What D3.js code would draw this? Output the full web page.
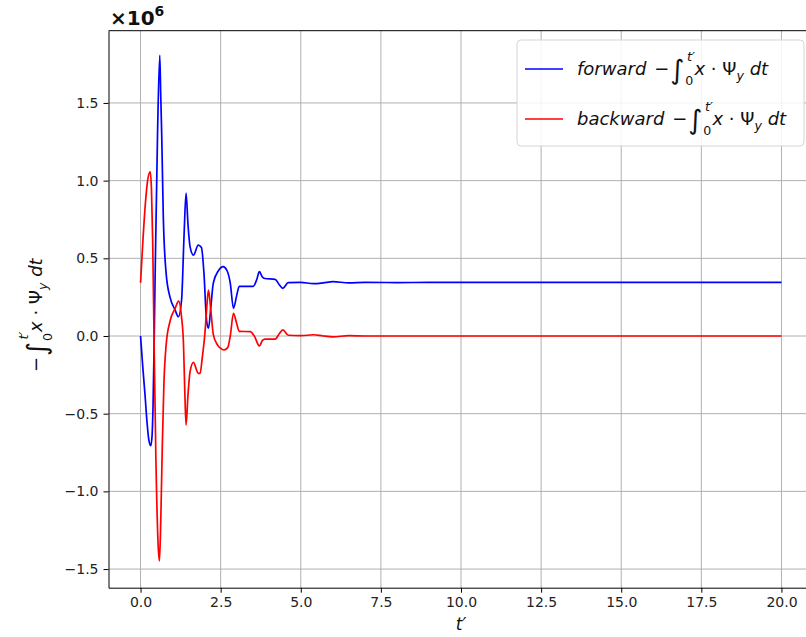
<!DOCTYPE html>
<html>
<head>
<meta charset="utf-8">
<script src="https://cdn.jsdelivr.net/npm/d3@7"></script>
<style>
  body { margin: 0; background: #fff; }
  svg { display: block; font-family: "DejaVu Sans", sans-serif; }
</style>
</head>
<body>
<svg id="chart" width="806" height="637"></svg>
<script>
// values (units of 1e6)
const tForward = [0, 0.07, 0.14, 0.2, 0.26, 0.32, 0.36, 0.39, 0.42, 0.46, 0.53, 0.6, 0.63, 0.66, 0.71, 0.8, 0.92, 1.08, 1.18,
  1.28, 1.36, 1.42, 1.48, 1.545, 1.65, 1.8, 1.9, 1.98, 2.06, 2.12, 2.2, 2.27, 2.43, 2.58, 2.7, 2.8, 2.9, 3.0, 3.08, 3.52,
  3.62, 3.71, 3.8, 3.88, 4.2, 4.33, 4.44, 4.61, 5.0, 5.4, 5.7, 6.0, 6.5, 7, 8, 9, 10, 12, 14, 16, 18, 20];
const vForward = [0, -0.2, -0.38, -0.55, -0.67, -0.706, -0.64, -0.45, -0.1, 0.45, 1.3, 1.807, 1.55, 1.3, 0.77, 0.4, 0.25, 0.167, 0.124,
  0.23, 0.66, 0.92, 0.72, 0.575, 0.52, 0.585, 0.57, 0.4, 0.1, 0.05, 0.2, 0.34, 0.42, 0.446, 0.42, 0.34, 0.178, 0.26, 0.32, 0.32,
  0.36, 0.414, 0.38, 0.37, 0.365, 0.33, 0.307, 0.343, 0.345, 0.337, 0.342, 0.35, 0.342, 0.345, 0.344, 0.345, 0.345, 0.345, 0.345, 0.345, 0.345, 0.345];

const tBackward = [0, 0.07, 0.15, 0.22, 0.3, 0.34, 0.38, 0.42, 0.48, 0.55, 0.59, 0.63, 0.68, 0.73, 0.8, 0.92, 1.08, 1.19,
  1.28, 1.34, 1.38, 1.42, 1.48, 1.545, 1.65, 1.8, 1.86, 1.92, 2.01, 2.08, 2.12, 2.2, 2.27, 2.38, 2.5, 2.6, 2.72, 2.8, 2.9, 3.0, 3.08, 3.42,
  3.55, 3.71, 3.8, 3.88, 4.2, 4.33, 4.44, 4.61, 5.0, 5.4, 5.7, 6.0, 6.5, 7, 8, 9, 10, 12, 14, 16, 18, 20];
const vBackward = [0.343, 0.6, 0.85, 1.0, 1.057, 0.95, 0.6, 0.0, -0.8, -1.35, -1.448, -1.2, -0.7, -0.3, -0.055, 0.095, 0.178, 0.225,
  0.12, -0.05, -0.35, -0.573, -0.38, -0.23, -0.17, -0.24, -0.24, -0.15, 0.02, 0.22, 0.296, 0.15, 0.01, -0.05, -0.08, -0.09, -0.075, 0.0, 0.146, 0.08, 0.03, 0.028,
  0.0, -0.064, -0.03, -0.02, -0.02, 0.015, 0.04, 0.005, 0.002, 0.008, 0.0, -0.005, 0.002, 0.0, 0.0, 0.0, 0.0, 0.0, 0.0, 0.0, 0.0, 0.0];

const xTicks = [0, 2.5, 5, 7.5, 10, 12.5, 15, 17.5, 20];
const yTicks = [-1.5, -1.0, -0.5, 0, 0.5, 1.0, 1.5];

const seriesNames = ['forward', 'backward'];
const seriesColors = ['#0000ff', '#ff0000'];

const svg = d3.select('#chart');
const pLeft = 108.5, pRight = 813.5, pTop = 30.7, pBottom = 587.7;

const x = d3.scaleLinear().domain([-1, 21]).range([pLeft, pRight]);
const y = d3.scaleLinear().domain([-1.62, 1.965]).range([pBottom, pTop]);

// grid
const grid = svg.append('g');
grid.selectAll('line.gx').data(xTicks).join('line')
  .attr('class', 'gx')
  .attr('x1', d => x(d)).attr('x2', d => x(d))
  .attr('y1', pTop).attr('y2', pBottom)
  .attr('stroke', '#b0b0b0').attr('stroke-width', 1);
grid.selectAll('line.gy').data(yTicks).join('line')
  .attr('class', 'gy')
  .attr('x1', pLeft).attr('x2', pRight)
  .attr('y1', d => y(d)).attr('y2', d => y(d))
  .attr('stroke', '#b0b0b0').attr('stroke-width', 1);

// lines
const line = d3.line().x(d => x(d[0])).y(d => y(d[1])).curve(d3.curveMonotoneX);
const series = [d3.zip(tForward, vForward), d3.zip(tBackward, vBackward)];
svg.append('g').selectAll('path').data(series).join('path')
  .attr('d', line)
  .attr('fill', 'none')
  .attr('stroke', (d, i) => seriesColors[i])
  .attr('stroke-width', 1.7)
  .attr('stroke-linejoin', 'round');

// axes
const fmt = d3.format('.1f');
const xAxis = svg.append('g').attr('transform', `translate(0,${pBottom})`)
  .call(d3.axisBottom(x).tickValues(xTicks).tickFormat(fmt).tickSize(5).tickPadding(4).tickSizeOuter(0));
const yAxis = svg.append('g').attr('transform', `translate(${pLeft},0)`)
  .call(d3.axisLeft(y).tickValues(yTicks).tickFormat(fmt).tickSize(5).tickPadding(5).tickSizeOuter(0));
[xAxis, yAxis].forEach(a => {
  a.select('.domain').attr('stroke', '#000').attr('stroke-width', 1);
  a.selectAll('.tick line').attr('stroke', '#000');
  a.selectAll('.tick text').attr('font-family', 'DejaVu Sans').attr('font-size', 14).attr('fill', '#222');
});
// top spine
svg.append('line').attr('x1', pLeft).attr('x2', pRight).attr('y1', pTop).attr('y2', pTop)
  .attr('stroke', '#000').attr('stroke-width', 1);

// math label helper: -∫_0^{t'} x·Ψ_y dt
function mathText(t, s, lead) {
  t.append('tspan').text('−').attr('font-size', s).attr('dx', lead);
  t.append('tspan').text('∫').attr('font-size', s * 1.5).attr('dx', s * 0.05).attr('dy', s * 0.2);
  t.append('tspan').text('0').attr('font-size', s * 0.7).attr('dx', s * 0.05).attr('dy', s * 0.35);
  t.append('tspan').text('t′').attr('font-style', 'italic').attr('font-size', s * 0.7)
    .attr('dx', -s * 0.35).attr('dy', -s * 1.35);
  t.append('tspan').text('x').attr('font-style', 'italic').attr('font-size', s)
    .attr('dx', -s * 0.02).attr('dy', s * 0.8);
  t.append('tspan').text(' · Ψ').attr('font-size', s);
  t.append('tspan').text('y').attr('font-style', 'italic').attr('font-size', s * 0.7).attr('dy', s * 0.25);
  t.append('tspan').text(' dt').attr('font-style', 'italic').attr('font-size', s).attr('dy', -s * 0.25);
}

// y label
const yl = svg.append('text')
  .attr('transform', `translate(42,${(pTop + pBottom) / 2 + 6}) rotate(-90)`)
  .attr('text-anchor', 'middle').attr('fill', '#111');
mathText(yl, 18, 0);

// x label
svg.append('text').attr('x', x(10)).attr('y', 630).attr('text-anchor', 'middle')
  .attr('font-size', 17).attr('font-style', 'italic').attr('fill', '#111').text('t′');

// offset text ×10^6
const off = svg.append('text').attr('x', 110).attr('y', 25).attr('font-weight', 'bold')
  .attr('font-size', 20).attr('fill', '#111');
off.append('tspan').text('×10');
off.append('tspan').text('6').attr('font-size', 14).attr('dy', -9);

// legend
const lg = svg.append('g');
lg.append('rect').attr('x', 517).attr('y', 40).attr('width', 287).attr('height', 106)
  .attr('rx', 4).attr('fill', '#fff').attr('fill-opacity', 0.85)
  .attr('stroke', '#d5d5d5').attr('stroke-width', 1);
seriesNames.forEach((name, i) => {
  const cy = 69 + i * 50;
  lg.append('line').attr('x1', 525).attr('x2', 563).attr('y1', cy).attr('y2', cy)
    .attr('stroke', seriesColors[i]).attr('stroke-width', 1.7);
  const t = lg.append('text').attr('x', 577).attr('y', cy + 6).attr('fill', '#111');
  t.append('tspan').text(name).attr('font-style', 'italic').attr('font-size', 18);
  mathText(t, 18, 8);
});
</script>
</body>
</html>
